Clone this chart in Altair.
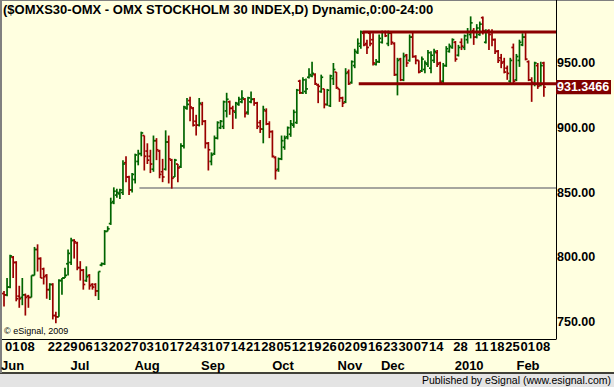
import altair as alt
import pandas as pd

title_text = "($OMXS30-OMX - OMX STOCKHOLM 30 INDEX,D) Dynamic,0:00-24:00"

opens = [772, 771, 777, 800, 796, 770, 769, 771, 770, 769, 786, 806, 799, 791, 786, 775, 779, 755, 754, 782,
         784, 795, 796, 813, 811, 792, 790, 782, 786, 779, 779, 774, 794, 795, 820, 826, 843, 848, 849, 850,
         873, 862, 852, 860, 874, 880, 894, 882, 878, 868, 890, 882, 866, 868, 889, 875, 862, 872, 870, 886,
         915, 921, 915, 905, 902, 918, 905, 888, 874, 880, 892, 900, 901, 913, 920, 915, 912, 918, 920, 922,
         912, 920, 922, 919, 904, 899, 913, 903, 897, 877, 868, 876, 885, 893, 895, 902, 904, 936, 927, 928,
         939, 940, 941, 933, 928, 930, 918, 917, 938, 943, 930, 923, 920, 943, 935, 948, 958, 963, 973, 965,
         973, 968, 949, 951, 966, 974, 965, 973, 965, 941, 953, 937, 956, 952, 970, 955, 952, 944, 945, 949,
         946, 952, 958, 950, 936, 948, 959, 962, 966, 956, 966, 962, 968, 972, 975, 970, 972, 985, 966, 975,
         974, 968, 959, 954, 951, 946, 936, 962, 937, 952, 964, 970, 951, 937, 934, 948, 933, 950]
highs = [774, 784, 802, 801, 797, 778, 784, 772, 771, 786, 808, 810, 800, 792, 787, 780, 780, 758, 783, 784,
         792, 806, 815, 814, 812, 797, 791, 793, 787, 780, 780, 789, 796, 821, 824, 846, 854, 853, 853, 875,
         878, 863, 865, 880, 883, 897, 894, 888, 883, 894, 892, 883, 876, 898, 894, 876, 876, 872, 888, 917,
         923, 924, 916, 910, 923, 920, 906, 889, 881, 894, 905, 906, 921, 927, 921, 917, 920, 924, 929, 923,
         924, 928, 923, 920, 906, 917, 915, 905, 898, 878, 877, 894, 894, 901, 906, 914, 930, 937, 939, 938,
         946, 951, 942, 934, 941, 930, 930, 941, 950, 943, 930, 924, 946, 945, 952, 961, 969, 975, 974, 968,
         974, 973, 953, 972, 975, 975, 975, 974, 966, 954, 954, 958, 957, 972, 974, 956, 952, 955, 952, 960,
         959, 961, 960, 951, 950, 963, 965, 969, 967, 964, 969, 972, 977, 986, 977, 980, 982, 986, 976, 976,
         976, 969, 960, 957, 954, 948, 954, 965, 957, 968, 973, 974, 952, 939, 951, 950, 951, 951]
lows = [762, 770, 776, 784, 766, 761, 763, 755, 761, 769, 786, 789, 784, 779, 768, 767, 752, 749, 754, 771,
        784, 786, 794, 799, 790, 782, 775, 781, 775, 775, 770, 767, 793, 794, 820, 825, 841, 846, 845, 848,
        858, 848, 850, 857, 871, 878, 867, 872, 865, 866, 875, 861, 858, 867, 857, 853, 862, 858, 869, 884,
        914, 905, 901, 894, 901, 902, 884, 867, 871, 879, 891, 899, 899, 908, 910, 899, 907, 917, 919, 908,
        910, 919, 917, 899, 896, 888, 902, 892, 877, 860, 866, 875, 883, 891, 893, 900, 903, 926, 926, 926,
        938, 939, 933, 919, 927, 915, 917, 916, 933, 930, 920, 916, 919, 933, 934, 946, 957, 961, 963, 957,
        963, 948, 948, 950, 965, 970, 963, 964, 940, 925, 936, 936, 947, 951, 954, 949, 942, 943, 942, 947,
        942, 950, 947, 934, 934, 947, 958, 961, 951, 955, 960, 960, 965, 969, 964, 969, 971, 972, 965, 960,
        963, 957, 950, 946, 942, 937, 934, 934, 936, 947, 963, 952, 936, 920, 932, 930, 932, 924]
closes = [771, 777, 801, 796, 768, 768, 771, 769, 769, 786, 806, 799, 784, 785, 775, 779, 755, 754, 782, 784,
          786, 803, 813, 812, 792, 790, 779, 785, 778, 777, 774, 789, 795, 820, 822, 842, 851, 850, 852, 872,
          862, 852, 864, 879, 880, 896, 878, 875, 872, 890, 883, 864, 862, 889, 876, 861, 875, 869, 886, 916,
          918, 916, 902, 902, 919, 905, 888, 883, 879, 892, 904, 905, 920, 922, 915, 913, 919, 922, 923, 911,
          923, 922, 919, 901, 899, 914, 903, 897, 878, 867, 876, 890, 892, 900, 903, 912, 929, 927, 937, 930,
          941, 942, 934, 932, 939, 918, 929, 940, 945, 931, 923, 919, 942, 934, 951, 959, 965, 974, 964, 962,
          965, 950, 951, 969, 974, 971, 973, 966, 941, 952, 937, 955, 950, 970, 955, 952, 943, 953, 950, 958,
          956, 959, 949, 935, 948, 961, 963, 968, 953, 962, 963, 971, 974, 981, 970, 977, 980, 975, 974, 972,
          968, 959, 952, 950, 943, 942, 952, 936, 955, 966, 970, 953, 937, 935, 950, 932, 948, 931.3466]

day_labels = ["01", "08", "22", "29", "06", "13", "20", "27", "03", "10", "17", "24", "31", "07", "14", "21",
              "28", "05", "12", "19", "26", "02", "09", "16", "23", "30", "07", "14", "28", "11", "18", "25",
              "01", "08"]
day_label_idx = [0, 5, 14, 19, 24, 29, 34, 39, 44, 49, 54, 59, 64, 69, 74, 79, 84, 89, 94, 99, 104, 109,
                 114, 119, 124, 129, 134, 139, 147, 154, 159, 164, 169, 174]
month_labels = ["Jun", "Jul", "Aug", "Sep", "Oct", "Nov", "Dec", "2010", "Feb"]
month_label_pos = [2.8, 24.9, 46.9, 68.5, 91.5, 113.4, 127.5, 152.5, 171.8]

price_ticks = [750, 800, 850, 900, 950]
level_prices = [973.9, 934.0]
level_start = [117.5, 116.3]
base_price = [853.5]
base_start = [44.4]
last_price = 931.3466

W, H = 554, 337
X_DOMAIN = [-0.66, 180.98]
Y_DOMAIN = [736.9, 997.1]
FONT = "Liberation Sans"
GREEN = "#006400"
RED = "#990000"
BG = "#FFFFE0"

n = len(closes)
bars = pd.DataFrame({"i": list(range(n)), "o": opens, "h": highs, "l": lows, "c": closes})
bars["dir"] = ["up" if c >= o else "down" for o, c in zip(opens, closes)]
bars["ox"] = bars["i"] - 0.65
bars["cx"] = bars["i"] + 0.65

xs = alt.Scale(domain=X_DOMAIN, nice=False, zero=False)
ys = alt.Scale(domain=Y_DOMAIN, nice=False, zero=False)
col = alt.Scale(domain=["up", "down"], range=[GREEN, RED])
SW = 1.7

base = alt.Chart(bars)
hl = base.mark_rule(strokeWidth=SW).encode(
    x=alt.X("i:Q", scale=xs, axis=None),
    y=alt.Y("l:Q", scale=ys, axis=None),
    y2="h:Q",
    color=alt.Color("dir:N", scale=col, legend=None),
)
otick = base.mark_rule(strokeWidth=SW).encode(
    x=alt.X("ox:Q", scale=xs, axis=None), x2="i:Q",
    y=alt.Y("o:Q", scale=ys, axis=None),
    color=alt.Color("dir:N", scale=col, legend=None),
)
ctick = base.mark_rule(strokeWidth=SW).encode(
    x=alt.X("i:Q", scale=xs, axis=None), x2="cx:Q",
    y=alt.Y("c:Q", scale=ys, axis=None),
    color=alt.Color("dir:N", scale=col, legend=None),
)

lv = pd.DataFrame({"p": level_prices, "s": level_start, "e": [X_DOMAIN[1]] * len(level_prices)})
levels = alt.Chart(lv).mark_rule(strokeWidth=3, color="#8B0000").encode(
    x=alt.X("s:Q", scale=xs, axis=None), x2="e:Q", y=alt.Y("p:Q", scale=ys, axis=None))
bl = pd.DataFrame({"p": base_price, "s": base_start, "e": [X_DOMAIN[1]]})
baseline = alt.Chart(bl).mark_rule(strokeWidth=1.5, color="#888888").encode(
    x=alt.X("s:Q", scale=xs, axis=None), x2="e:Q", y=alt.Y("p:Q", scale=ys, axis=None))

# right price axis labels
yl = pd.DataFrame({"p": price_ticks})
ylabels = alt.Chart(yl).mark_text(align="left", baseline="middle", fontWeight="bold", fontSize=12.5,
                                  font=FONT, color="#000000").encode(
    x=alt.value(W + 1), y=alt.Y("p:Q", scale=ys, axis=None), text=alt.Text("p:Q", format=".2f"))

lp = pd.DataFrame({"lo": [last_price - 5.4], "hi": [last_price + 5.6], "p": [last_price],
                   "t": [f"{last_price:.4f}"]})
pbox = alt.Chart(lp).mark_rect(color="#800000").encode(
    x=alt.value(W), x2=alt.value(W + 55), y=alt.Y("lo:Q", scale=ys, axis=None), y2="hi:Q")
ptxt = alt.Chart(lp).mark_text(align="left", baseline="middle", color="white", fontWeight="bold",
                               fontSize=12.5, font=FONT).encode(
    x=alt.value(W + 1), y=alt.Y("p:Q", scale=ys, axis=None), text="t:N")

dl = pd.DataFrame({"idx": day_label_idx, "lab": day_labels})
days = alt.Chart(dl).mark_text(align="left", baseline="middle", fontWeight="bold", fontSize=13,
                               font=FONT, color="#000000", dx=1).encode(
    x=alt.X("idx:Q", scale=xs, axis=None), y=alt.value(H + 8), text="lab:N")
ml = pd.DataFrame({"idx": month_label_pos, "lab": month_labels})
months = alt.Chart(ml).mark_text(align="center", baseline="middle", fontWeight="bold", fontSize=13,
                                 font=FONT, color="#000000").encode(
    x=alt.X("idx:Q", scale=xs, axis=None), y=alt.value(H + 27), text="lab:N")

one = pd.DataFrame({"t": [title_text]})
title = alt.Chart(one).mark_text(align="left", baseline="middle", fontWeight="bold", fontSize=13,
                                 font=FONT, color="#000000").encode(
    x=alt.value(1), y=alt.value(8), text="t:N")
copy = alt.Chart(pd.DataFrame({"t": ["\u00a9 eSignal, 2009"]})).mark_text(
    align="left", baseline="middle", fontSize=9, font=FONT, color="#000000").encode(
    x=alt.value(2), y=alt.value(H - 8), text="t:N")

chrome = pd.DataFrame({"k": [0]})
status = alt.Chart(chrome).mark_rect(color="#E4E4E4").encode(
    x=alt.value(-2), x2=alt.value(612), y=alt.value(372), y2=alt.value(385))
status_line = alt.Chart(chrome).mark_rule(color="#000000", strokeWidth=1.5).encode(
    x=alt.value(-2), x2=alt.value(612), y=alt.value(371))
left_border = alt.Chart(chrome).mark_rect(color="#808080").encode(
    x=alt.value(-2), x2=alt.value(0), y=alt.value(-2), y2=alt.value(371))
top_border = alt.Chart(chrome).mark_rect(color="#808080").encode(
    x=alt.value(-2), x2=alt.value(612), y=alt.value(-2), y2=alt.value(-1))
axis_v = alt.Chart(chrome).mark_rule(color="#000000", strokeWidth=1).encode(
    x=alt.value(W + 0.5), y=alt.value(-2), y2=alt.value(H))
axis_h = alt.Chart(chrome).mark_rule(color="#000000", strokeWidth=1).encode(
    x=alt.value(0), x2=alt.value(W + 0.5), y=alt.value(H + 0.5))
status_txt = alt.Chart(pd.DataFrame({"t": ["Published by eSignal (www.esignal.com)"]})).mark_text(
    align="right", baseline="middle", fontSize=10.5, font=FONT, color="#000000").encode(
    x=alt.value(609), y=alt.value(379), text="t:N")

chart = alt.layer(
    status, status_line, left_border, top_border,
    baseline, hl, otick, ctick, levels, axis_v, axis_h, ylabels, pbox, ptxt,
    days, months, title, copy, status_txt,
).properties(
    width=W, height=H,
    padding={"left": 2, "top": 2, "right": 58, "bottom": 48},
    autosize=alt.AutoSizeParams(type="none"),
    background=BG,
).configure_view(stroke=None, fill=BG)

chart.save("out.html", embed_options={"renderer": "svg", "actions": False})
